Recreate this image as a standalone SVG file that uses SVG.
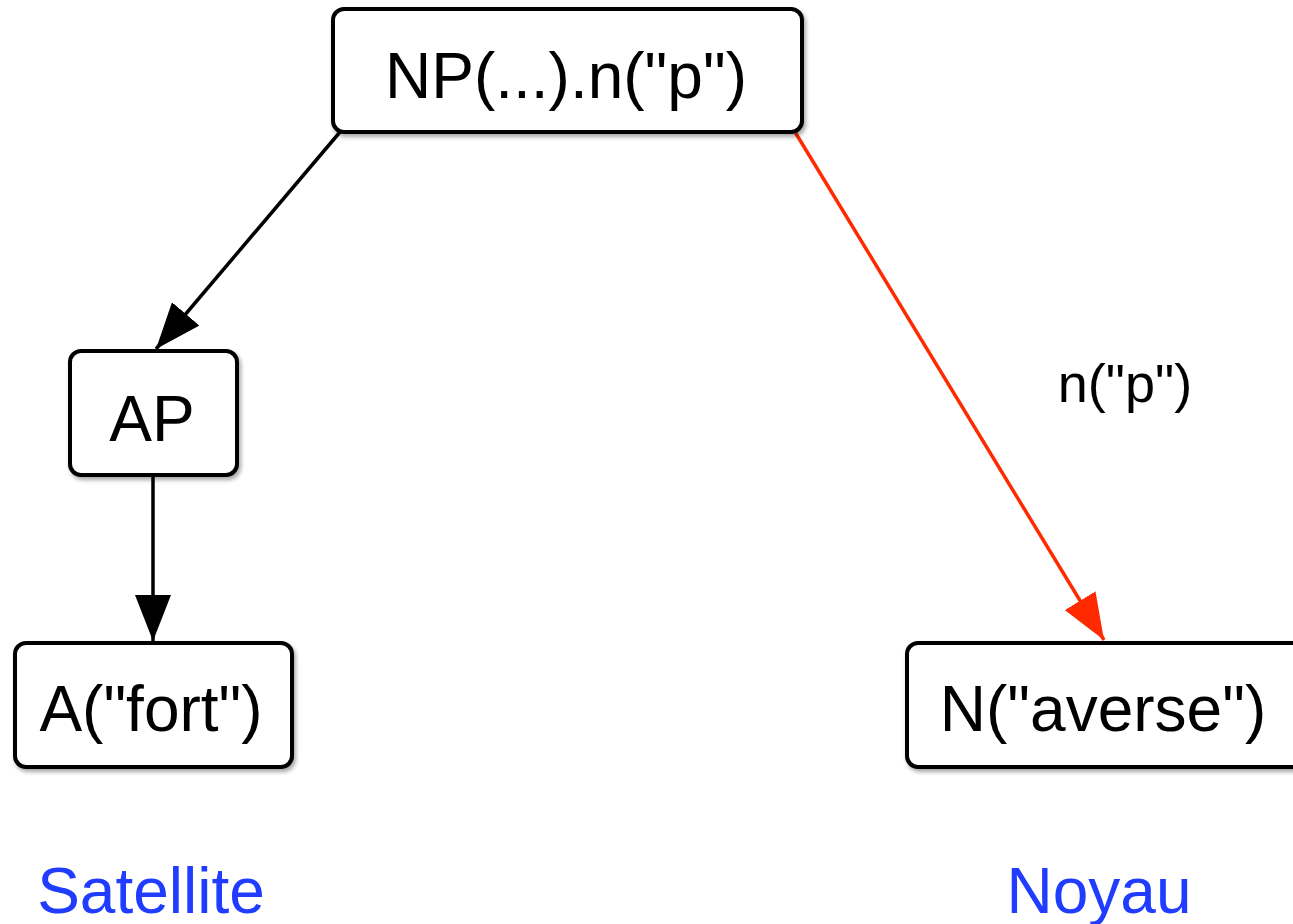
<svg xmlns="http://www.w3.org/2000/svg" width="1293" height="924" viewBox="0 0 1293 924">
<style>
.box{fill:#fff;stroke:#000;stroke-width:4}
.t{font-family:"Liberation Sans",Arial,sans-serif;font-size:64px;fill:#000;text-anchor:middle}
.lbl{font-family:"Liberation Sans",Arial,sans-serif;font-size:54px;fill:#000;text-anchor:middle}
.blue{font-family:"Liberation Sans",Arial,sans-serif;font-size:64px;fill:#1f3cff;text-anchor:middle}
.e{fill:none;stroke-width:3.5}
</style>
<defs>
<filter id="sh" x="-10%" y="-10%" width="120%" height="130%">
<feGaussianBlur in="SourceAlpha" stdDeviation="2"/>
<feOffset dx="2" dy="3"/>
<feComponentTransfer><feFuncA type="linear" slope="0.35"/></feComponentTransfer>
<feMerge><feMergeNode/><feMergeNode in="SourceGraphic"/></feMerge>
</filter>
<marker id="ab" markerUnits="userSpaceOnUse" markerWidth="48" markerHeight="36" refX="46" refY="18" orient="auto">
<path d="M0,0 L46,18 L0,36 Z" fill="#000"/>
</marker>
<marker id="ar" markerUnits="userSpaceOnUse" markerWidth="48" markerHeight="36" refX="46" refY="18" orient="auto">
<path d="M0,0 L46,18 L0,36 Z" fill="#ff2a00"/>
</marker>
</defs>
<g id="connectors">
<line class="e" x1="340" y1="132" x2="156" y2="349" stroke="#000" marker-end="url(#ab)"/>
<line class="e" x1="153" y1="475" x2="153" y2="641" stroke="#000" marker-end="url(#ab)"/>
<line class="e" x1="795" y1="132" x2="1104" y2="640" stroke="#ff2a00" marker-end="url(#ar)"/>
<text class="lbl" x="1125" y="402">n("p")</text>
</g>
<g id="np">
<rect class="box" x="333" y="9" width="469" height="123" rx="11" filter="url(#sh)"/>
<text class="t" x="566" y="98">NP(...).n("p")</text>
</g>
<g id="ap">
<rect class="box" x="70" y="351" width="167" height="124" rx="11" filter="url(#sh)"/>
<text class="t" x="152" y="441">AP</text>
</g>
<g id="a">
<rect class="box" x="15" y="643" width="277" height="124" rx="11" filter="url(#sh)"/>
<text class="t" x="151" y="731">A("fort")</text>
</g>
<g id="n">
<rect class="box" x="907" y="643" width="400" height="124" rx="11" filter="url(#sh)"/>
<text class="t" x="1103" y="731">N("averse")</text>
</g>
<g id="labels">
<text class="blue" x="151" y="913">Satellite</text>
<text class="blue" x="1099" y="913">Noyau</text>
</g>
</svg>
